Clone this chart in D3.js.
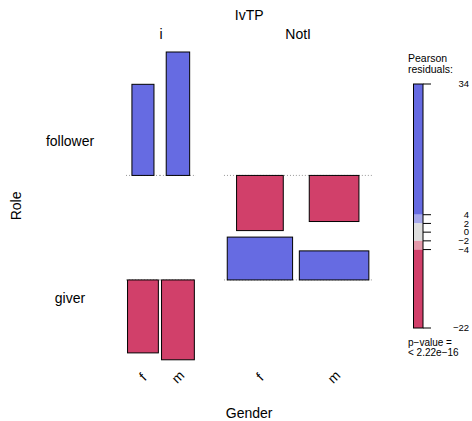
<!DOCTYPE html>
<html>
<head>
<meta charset="utf-8">
<script src="https://cdnjs.cloudflare.com/ajax/libs/d3/7.8.5/d3.min.js"></script>
<style>
  html, body { margin: 0; padding: 0; background: #fff; }
  svg { display: block; font-family: "Liberation Sans", Arial, Helvetica, sans-serif; }
</style>
</head>
<body>
<svg id="chart" width="472" height="421"></svg>
<script>
// Association plot of Role x IvTP x Gender (Pearson residuals, independence model)
const roles = ["follower", "giver"];
const ivtpLevels = ["i", "NotI"];
const genderLevels = ["f", "m"];

// cells in column order: i/f, i/m, NotI/f, NotI/m
const residFollower = [25.1, 34.0, -15.2, -12.7];
const residGiver = [-20.1, -22.0, 11.8, 8.0];
const expectedFollower = [28.9, 32.7, 129.7, 146.8];
const expectedGiver = [56.5, 64.0, 254.0, 287.5];

// legend
const legendTicks = [34, 4, 2, 0, -2, -4, -22];
const legendBands = [
  { from: 34, to: 4, color: "#666be2" },
  { from: 4, to: 2, color: "#a6a8ea" },
  { from: 2, to: -2, color: "#dedede" },
  { from: -2, to: -4, color: "#e499aa" },
  { from: -4, to: -22, color: "#d1406a" }
];
const pValueText = ["p\u2212value =", "< 2.22e\u221216"];

const residuals = [residFollower, residGiver];
const expected = [expectedFollower, expectedGiver];

const svg = d3.select("#chart");
const fill = r => r > 4 ? "#666be2" : r > 2 ? "#a6a8ea" : r >= -2 ? "#dedede" : r >= -4 ? "#e499aa" : "#d1406a";

// ---- horizontal layout: bar width ~ sqrt(expected) ----
const maxE = d3.max(expected.flat());
const wScale = d3.scaleSqrt().domain([0, maxE]).range([0, 4.1 * Math.sqrt(maxE)]);
const slotPad = 1.1, groupGap = 28, x0 = 126;
const cols = [];
let cx = x0;
ivtpLevels.forEach((lv, gi) => {
  const gStart = cx;
  genderLevels.forEach((g, si) => {
    const j = gi * 2 + si;
    const slotW = d3.max(expected, row => wScale(row[j])) * slotPad;
    cols.push({ j, ivtp: lv, gender: g, x: cx, w: slotW, c: cx + slotW / 2 });
    cx += slotW;
  });
  cols.filter(c => c.ivtp === lv).forEach(c => { c.gStart = gStart; c.gEnd = cx; });
  cx += groupGap;
});

// ---- vertical layout: bar height ~ residual ----
const kY = 3.63, rowGap = 6.5, yTop = 52;
const rows = [];
let cy = yTop;
roles.forEach((r, i) => {
  const hi = Math.max(0, d3.max(residuals[i]));
  const lo = Math.min(0, d3.min(residuals[i]));
  const h = (hi - lo) * kY;
  const y = d3.scaleLinear().domain([hi, lo]).range([cy, cy + h]);
  rows.push({ role: r, y, top: cy, bottom: cy + h, mid: cy + h / 2 });
  cy += h + rowGap;
});

// baselines (dotted)
rows.forEach(row => {
  cols.forEach(c => {
    svg.append("line")
      .attr("x1", c.x).attr("x2", c.x + c.w)
      .attr("y1", row.y(0)).attr("y2", row.y(0))
      .attr("stroke", "#999").attr("stroke-width", 1)
      .attr("stroke-dasharray", "1,2");
  });
});

// bars
rows.forEach((row, i) => {
  cols.forEach(c => {
    const r = residuals[i][c.j];
    const w = wScale(expected[i][c.j]);
    const yA = row.y(Math.max(0, r)), yB = row.y(Math.min(0, r));
    svg.append("rect")
      .attr("x", c.c - w / 2).attr("y", yA)
      .attr("width", w).attr("height", yB - yA)
      .attr("fill", fill(r)).attr("stroke", "#000").attr("stroke-width", 1);
  });
});

// titles and labels
const txt = (x, y, s, size, anchor = "middle") =>
  svg.append("text").attr("x", x).attr("y", y).attr("font-size", size)
    .attr("text-anchor", anchor).attr("fill", "#000").text(s);

const plotMidX = (cols[0].x + cols[cols.length - 1].x + cols[cols.length - 1].w) / 2;
txt(plotMidX, 20, "IvTP", 14);
ivtpLevels.forEach(lv => {
  const c = cols.find(d => d.ivtp === lv);
  txt((c.gStart + c.gEnd) / 2, 39, lv, 14);
});
rows.forEach(row => txt(70, row.mid + 5, row.role, 14));
const plotMidY = (rows[0].top + rows[rows.length - 1].bottom) / 2;
svg.append("text").attr("transform", `translate(21,${plotMidY}) rotate(-90)`)
  .attr("text-anchor", "middle").attr("font-size", 14).text("Role");
cols.forEach(c => {
  svg.append("text").attr("transform", `translate(${c.c},${377}) rotate(-45)`)
    .attr("text-anchor", "middle").attr("dominant-baseline", "central")
    .attr("font-size", 13.5).text(c.gender);
});
txt(plotMidX, 418, "Gender", 14);

// legend
const ly = d3.scaleLinear().domain([34, -22]).range([84, 328]);
const lx = 413.5, lw = 9.5;
txt(408, 62, "Pearson", 10.5, "start");
txt(408, 72.5, "residuals:", 10.5, "start");
legendBands.forEach(b => {
  svg.append("rect").attr("x", lx).attr("y", ly(b.from))
    .attr("width", lw).attr("height", ly(b.to) - ly(b.from))
    .attr("fill", b.color);
});
svg.append("rect").attr("x", lx).attr("y", ly(34)).attr("width", lw)
  .attr("height", ly(-22) - ly(34)).attr("fill", "none")
  .attr("stroke", "#000").attr("stroke-width", 1);
legendTicks.forEach(t => {
  svg.append("line").attr("x1", lx + lw).attr("x2", lx + lw + 8)
    .attr("y1", ly(t)).attr("y2", ly(t)).attr("stroke", "#000");
  svg.append("text").attr("x", 469).attr("y", ly(t)).attr("dy", "0.33em")
    .attr("text-anchor", "end").attr("font-size", 9.5)
    .text(t < 0 ? "\u2212" + Math.abs(t) : t);
});
txt(408, 346, pValueText[0], 10, "start");
txt(408, 356, pValueText[1], 10, "start");
</script>
</body>
</html>
